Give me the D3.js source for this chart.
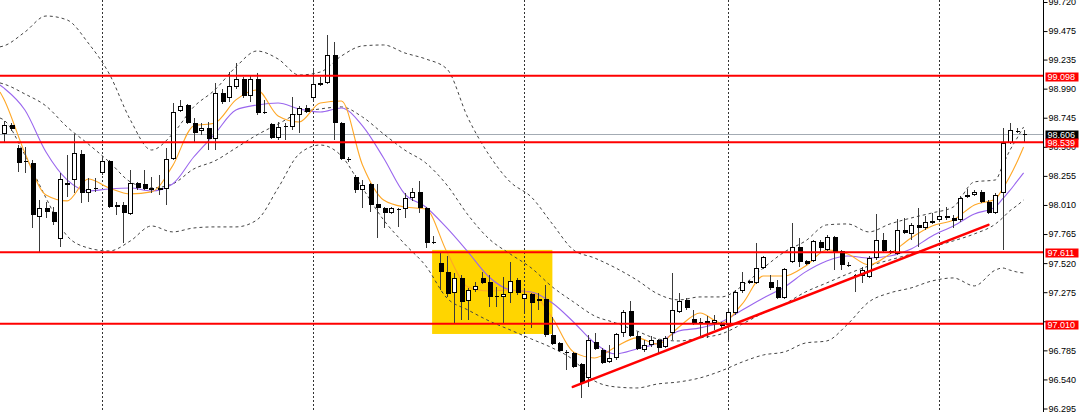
<!DOCTYPE html>
<html><head><meta charset="utf-8">
<script src="https://cdn.jsdelivr.net/npm/d3@7"></script>
<style>body{margin:0;background:#fff;overflow:hidden}svg{display:block}</style>
</head><body>
<svg id="c" width="1080" height="412"></svg>
<script>
// ---- candle data (index 0..145) ----
const openP = [98.608,98.684,98.490,98.372,98.364,97.909,97.985,97.951,97.723,98.178,
98.220,98.440,98.111,98.145,98.279,98.381,98.010,98.010,97.934,98.195,
98.187,98.136,98.153,98.145,98.397,98.802,98.852,98.701,98.633,98.659,
98.566,98.953,98.911,99.004,99.071,98.928,99.071,98.793,98.692,98.574,
98.667,98.667,98.768,98.827,98.911,99.021,99.038,99.274,98.701,98.397,
98.246,98.136,98.187,98.018,97.985,97.942,97.976,97.976,98.069,98.119,
97.985,97.698,97.521,97.445,97.268,97.395,97.201,97.294,97.395,97.361,
97.243,97.235,97.268,97.378,97.218,97.260,97.218,97.218,96.915,96.847,
96.771,96.763,96.670,96.552,96.856,96.788,96.687,96.721,96.931,97.117,
96.906,96.788,96.830,96.873,96.814,96.931,97.108,97.209,97.049,97.024,
97.016,97.016,97.007,96.999,97.100,97.285,97.370,97.353,97.479,97.361,
97.319,97.226,97.530,97.656,97.538,97.538,97.698,97.631,97.740,97.622,
97.504,97.420,97.412,97.403,97.563,97.715,97.622,97.597,97.799,97.766,
97.841,97.816,97.858,97.883,97.917,97.900,97.883,98.077,98.094,98.119,
98.035,97.942,98.111,98.532,98.633,98.608];
const highP = [98.718,98.701,98.515,98.499,98.389,98.052,98.035,97.993,98.279,98.431,
98.608,98.473,98.237,98.237,98.414,98.389,98.035,98.035,98.305,98.204,
98.305,98.246,98.263,98.490,98.869,98.894,98.861,98.743,98.701,98.709,
99.038,98.987,99.130,99.206,99.088,99.105,99.122,98.894,98.701,98.709,
98.701,98.920,98.844,98.852,99.164,99.088,99.442,99.383,98.709,98.414,
98.263,98.220,98.195,98.187,97.993,97.993,97.985,98.111,98.153,98.212,
97.993,97.749,97.605,97.580,97.437,97.420,97.311,97.361,97.445,97.420,
97.319,97.403,97.530,97.395,97.294,97.268,97.268,97.336,97.066,96.856,
96.788,96.771,96.679,96.915,96.931,96.805,96.830,96.931,97.125,97.201,
96.940,96.873,96.906,96.881,96.906,97.437,97.268,97.226,97.125,97.058,
97.075,97.083,97.024,97.125,97.294,97.445,97.378,97.690,97.580,97.420,
97.378,97.479,97.858,97.732,97.546,97.715,97.715,97.757,97.749,97.631,
97.530,97.429,97.487,97.580,97.934,97.774,97.631,97.892,97.900,97.858,
97.985,97.917,97.942,97.968,97.993,97.926,98.086,98.145,98.136,98.136,
98.052,98.111,98.659,98.701,98.659,98.642];
const lowP = [98.541,98.633,98.288,98.279,97.816,97.614,97.900,97.841,97.656,98.077,
98.111,98.027,98.035,98.119,98.263,97.985,97.926,97.690,97.926,98.136,
98.136,98.111,98.094,98.010,98.389,98.793,98.692,98.532,98.600,98.473,
98.473,98.861,98.878,98.987,98.911,98.878,98.768,98.777,98.566,98.557,
98.557,98.642,98.616,98.785,98.894,99.012,99.029,98.557,98.389,98.372,
98.111,97.985,97.951,97.732,97.816,97.934,97.824,97.900,98.044,97.942,
97.648,97.681,97.294,97.235,97.016,97.041,97.041,97.277,97.344,97.151,
97.151,97.016,97.184,97.252,97.108,96.974,97.125,96.898,96.830,96.771,
96.620,96.637,96.384,96.477,96.788,96.670,96.679,96.704,96.898,96.898,
96.788,96.771,96.814,96.763,96.805,96.873,97.100,97.125,96.999,96.898,
96.889,96.957,96.957,96.873,97.083,97.268,97.344,97.344,97.471,97.294,
97.218,97.218,97.521,97.487,97.504,97.530,97.614,97.622,97.462,97.462,
97.487,97.277,97.353,97.395,97.546,97.614,97.597,97.589,97.766,97.715,
97.656,97.799,97.850,97.867,97.883,97.816,97.867,98.069,98.086,98.027,
97.934,97.934,97.631,98.524,98.616,98.541];
const closeP = [98.684,98.650,98.364,98.381,97.926,97.985,97.951,97.867,98.229,98.195,
98.448,98.111,98.145,98.153,98.381,97.993,97.993,97.942,98.195,98.153,
98.145,98.153,98.136,98.397,98.793,98.844,98.701,98.616,98.659,98.566,
98.953,98.878,99.012,99.071,98.928,99.071,98.785,98.785,98.574,98.667,
98.675,98.777,98.827,98.793,99.029,99.038,99.274,98.701,98.397,98.389,
98.136,98.178,98.010,97.985,97.942,97.985,97.968,98.069,98.119,97.985,
97.690,97.690,97.445,97.260,97.395,97.193,97.294,97.327,97.353,97.235,
97.235,97.260,97.370,97.268,97.260,97.184,97.201,96.915,96.839,96.780,
96.763,96.645,96.510,96.873,96.797,96.679,96.721,96.923,97.108,96.906,
96.797,96.830,96.873,96.805,96.889,97.125,97.201,97.142,97.016,97.016,
97.033,97.041,96.990,97.108,97.277,97.361,97.353,97.479,97.572,97.311,
97.226,97.471,97.656,97.530,97.513,97.707,97.648,97.740,97.614,97.504,
97.496,97.412,97.462,97.563,97.715,97.622,97.605,97.799,97.774,97.841,
97.816,97.867,97.875,97.917,97.900,97.875,98.069,98.094,98.119,98.035,
97.942,98.094,98.532,98.642,98.625,98.606];

// ---- indicator lines, read at these candle positions ----
const lineIdx = [-0.54,0,3,6,9,12,15,18,21,24,27,30,33,36,39,42,45,48,51,54,57,60,63,66,69,72,75,78,81,84,87,90,93,96,99,102,105,108,111,114,117,120,123,126,129,132,135,138,141,142,143,144,145];
const maFast = [98.962,98.903,98.448,98.094,98.044,98.229,98.153,98.103,98.120,98.339,98.676,98.701,98.895,98.979,98.760,98.709,98.869,98.886,98.347,98.052,97.993,97.976,97.614,97.319,97.285,97.294,97.269,97.058,96.772,96.721,96.814,96.890,96.839,96.982,97.100,97.016,97.176,97.412,97.412,97.496,97.631,97.597,97.505,97.597,97.732,97.833,97.884,98.010,98.061,98.145,98.246,98.364,98.499];
const maSlow = [99.021,98.996,98.810,98.456,98.221,98.128,98.145,98.153,98.128,98.187,98.414,98.608,98.810,98.852,98.869,98.819,98.793,98.827,98.676,98.406,98.103,97.993,97.816,97.614,97.403,97.294,97.277,97.184,97.024,96.847,96.755,96.797,96.847,96.948,96.974,97.024,97.125,97.226,97.319,97.446,97.538,97.580,97.563,97.580,97.639,97.749,97.833,97.934,97.993,98.061,98.128,98.204,98.280];
const bandMid = [99.038,99.029,98.945,98.844,98.667,98.524,98.372,98.204,98.153,98.187,98.313,98.381,98.490,98.600,98.692,98.785,98.819,98.836,98.751,98.608,98.473,98.364,98.178,97.926,97.724,97.597,97.479,97.319,97.193,97.075,97.016,96.948,96.881,96.864,96.890,96.923,97.007,97.100,97.176,97.277,97.353,97.429,97.496,97.547,97.597,97.656,97.707,97.766,97.850,97.900,97.959,98.002,98.052];
const bandUp = [99.342,99.350,99.467,99.602,99.569,99.375,99.114,98.726,98.473,98.608,98.836,98.979,99.173,99.307,99.240,99.105,99.130,99.265,99.350,99.358,99.291,99.240,99.156,98.743,98.431,98.204,98.077,97.850,97.631,97.563,97.479,97.378,97.260,97.210,97.235,97.235,97.328,97.479,97.614,97.707,97.842,97.850,97.783,97.850,97.900,97.943,97.993,98.204,98.221,98.339,98.465,98.566,98.667];
const bandLow = [98.743,98.726,98.431,98.069,97.749,97.648,97.622,97.707,97.833,97.783,97.816,97.825,97.825,97.884,98.153,98.440,98.515,98.423,98.153,97.884,97.681,97.496,97.226,97.125,97.033,96.957,96.881,96.805,96.704,96.527,96.477,96.468,96.502,96.519,96.553,96.612,96.687,96.746,96.772,96.847,96.864,97.007,97.193,97.269,97.311,97.370,97.395,97.328,97.462,97.479,97.462,97.446,97.437];

// ---- axis & annotations ----
const yTicks = [99.720,99.475,99.235,98.990,98.745,98.500,98.255,98.010,97.765,97.520,97.275,97.030,96.785,96.540,96.295];
const levels = [99.098,98.539,97.611,97.010];
const lastPrice = 98.606;
const separators = [14,44,74,103,133];
const zoneIdx = [60.9,78.0];
const zonePrice = [97.631,96.923];
const trendIdx = [80.9,140.0];
const trendPrice = [96.477,97.842];

// ---- scales ----
const axisX = 1043.5;
const x = d3.scaleLinear().domain([0,145]).range([3.8,1023.6]);
const y = d3.scaleLinear().domain([96.295,99.72]).range([408.5,2]);
const svg = d3.select('#c');
const FONT = 'Liberation Sans, Arial, sans-serif';

// yellow zone
svg.append('rect')
  .attr('x', x(zoneIdx[0])).attr('width', x(zoneIdx[1]) - x(zoneIdx[0]))
  .attr('y', y(zonePrice[0])).attr('height', y(zonePrice[1]) - y(zonePrice[0]))
  .attr('fill', '#ffd500');

// period separators
svg.append('g').selectAll('line').data(separators).join('line')
  .attr('x1', d => Math.round(x(d)) + 0.5).attr('x2', d => Math.round(x(d)) + 0.5)
  .attr('y1', 0).attr('y2', 412)
  .attr('stroke', '#333').attr('stroke-width', 1).attr('stroke-dasharray', '2,2');

// last price line
svg.append('line')
  .attr('x1', 0).attr('x2', axisX)
  .attr('y1', Math.round(y(lastPrice)) + 0.5).attr('y2', Math.round(y(lastPrice)) + 0.5)
  .attr('stroke', '#a3abb3').attr('stroke-width', 1);

// lines
const mkLine = arr => d3.line()
  .x((d, k) => x(lineIdx[k])).y(d => y(d))
  .curve(d3.curveMonotoneX)(arr);
[bandUp, bandMid, bandLow].forEach(arr => {
  svg.append('path').attr('d', mkLine(arr))
    .attr('fill', 'none').attr('stroke', '#444').attr('stroke-width', 1)
    .attr('stroke-dasharray', '3,3');
});
svg.append('path').attr('d', mkLine(maSlow))
  .attr('fill', 'none').attr('stroke', '#9a66ee').attr('stroke-width', 1.1);
svg.append('path').attr('d', mkLine(maFast))
  .attr('fill', 'none').attr('stroke', '#ffa726').attr('stroke-width', 1.1);

// candles
const gC = svg.append('g').attr('shape-rendering', 'crispEdges');
d3.range(openP.length).forEach(i => {
  const o = openP[i], c = closeP[i], h = highP[i], l = lowP[i];
  const cx = Math.round(x(i));
  gC.append('line')
    .attr('x1', cx + 0.5).attr('x2', cx + 0.5)
    .attr('y1', y(h)).attr('y2', y(l))
    .attr('stroke', '#3a3a3a').attr('stroke-width', 1);
  const top = Math.round(y(Math.max(o, c))), bot = Math.round(y(Math.min(o, c)));
  const hgt = bot - top;
  if (hgt < 2) {
    gC.append('line')
      .attr('x1', cx - 1.5).attr('x2', cx + 2.5)
      .attr('y1', top + 0.5).attr('y2', top + 0.5)
      .attr('stroke', '#000').attr('stroke-width', 1);
  } else if (c >= o) {
    gC.append('rect')
      .attr('x', cx - 1.5).attr('y', top + 0.5)
      .attr('width', 4).attr('height', hgt - 1)
      .attr('fill', '#fff').attr('stroke', '#000').attr('stroke-width', 1);
  } else {
    gC.append('rect')
      .attr('x', cx - 1.5).attr('y', top)
      .attr('width', 5).attr('height', hgt)
      .attr('fill', '#000');
  }
});

// horizontal levels
svg.append('g').selectAll('line').data(levels).join('line')
  .attr('x1', 0).attr('x2', axisX)
  .attr('y1', d => y(d)).attr('y2', d => y(d))
  .attr('stroke', '#ff0000').attr('stroke-width', 2);

// trend line
svg.append('line')
  .attr('x1', x(trendIdx[0])).attr('y1', y(trendPrice[0]))
  .attr('x2', x(trendIdx[1])).attr('y2', y(trendPrice[1]))
  .attr('stroke', '#ff0000').attr('stroke-width', 2.5).attr('stroke-linecap', 'round');

// right axis
svg.append('rect').attr('x', axisX + 0.5).attr('y', 0).attr('width', 40).attr('height', 412).attr('fill', '#fff');
const gA = svg.append('g').attr('transform', `translate(${axisX},0)`)
  .call(d3.axisRight(y).tickValues(yTicks).tickSize(4).tickSizeOuter(0).tickPadding(1)
    .tickFormat(d3.format('.3f')));
gA.select('.domain').remove();
gA.selectAll('.tick line').attr('stroke', '#000');
gA.selectAll('.tick text').attr('fill', '#000').style('font-family', FONT).style('font-size', '9px');
// a tick label fully covered by a level tag is not drawn (as in the reference)
gA.selectAll('.tick text').filter(d => levels.some(v => Math.abs(y(v) - y(d)) < 3.5)).remove();
svg.append('line').attr('x1', axisX).attr('x2', axisX).attr('y1', 0).attr('y2', 412)
  .attr('stroke', '#000').attr('stroke-width', 1);

// price labels
function tag(v, bg, dy) {
  const yy = Math.round(y(v)) + dy;
  svg.append('rect').attr('x', axisX + 2).attr('y', yy - 4.5).attr('width', 33).attr('height', 9).attr('fill', bg);
  svg.append('text').attr('x', axisX + 4).attr('y', yy).attr('dy', '0.35em')
    .attr('fill', '#fff').style('font-family', FONT).style('font-size', '9px')
    .text(d3.format('.3f')(v));
}
tag(lastPrice, '#000', 1);
levels.forEach(v => tag(v, '#ff0000', 1));
</script>
</body></html>
